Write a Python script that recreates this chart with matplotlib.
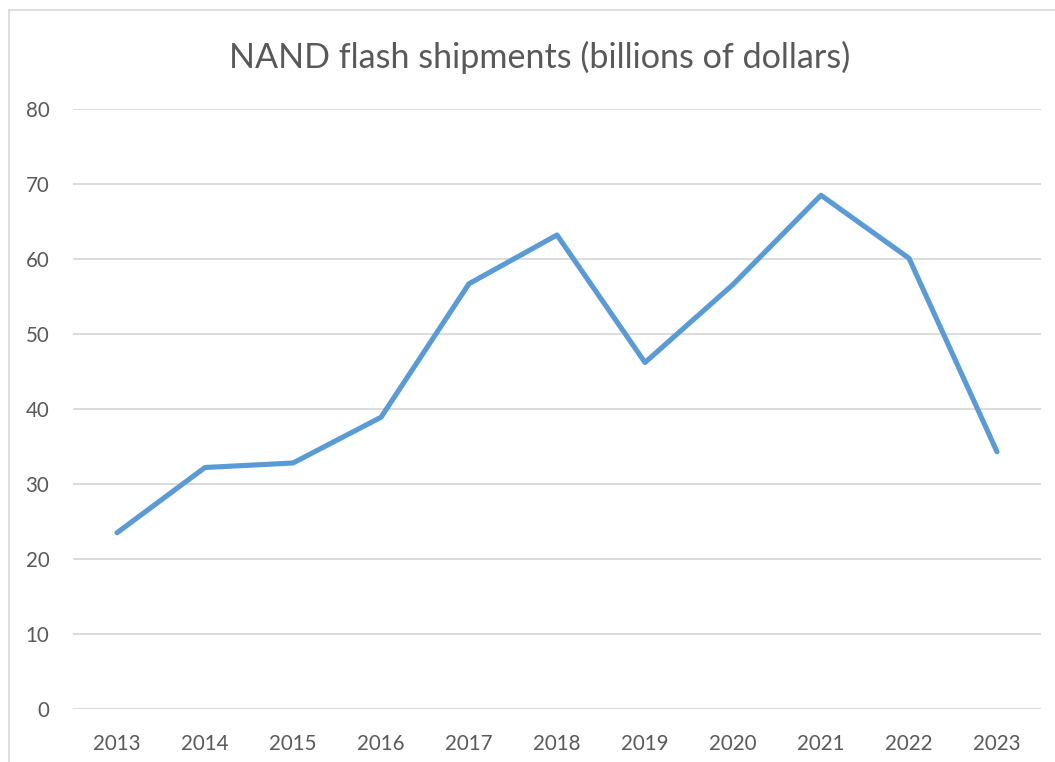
import matplotlib
matplotlib.use("Agg")
import matplotlib.pyplot as plt
from matplotlib.lines import Line2D

years = ["2013", "2014", "2015", "2016", "2017", "2018",
         "2019", "2020", "2021", "2022", "2023"]
shipments = [23.5, 32.2, 32.8, 38.9, 56.7, 63.2, 46.2, 56.6, 68.5, 60.1, 34.3]
y_ticks = [0, 10, 20, 30, 40, 50, 60, 70, 80]

W, H = 1055, 762
fig = plt.figure(figsize=(W / 100, H / 100), dpi=100)
plt.rcParams["font.family"] = ["Lato", "DejaVu Sans"]

text_color = "#595959"
grid_color = "#D9D9D9"

ax = fig.add_axes([73 / W, 1 - 709 / H, (1041 - 73) / W, (709 - 109) / H])
x = list(range(len(years)))
ax.plot(x, shipments, color="#5B9BD5", lw=3.7, solid_capstyle="round",
        solid_joinstyle="round", zorder=3)

ax.set_xlim(-0.5, len(years) - 0.5)
ax.set_ylim(0, 80)
ax.set_yticks(y_ticks)
ax.set_xticks(x)
ax.set_xticklabels(years)
for s in ax.spines.values():
    s.set_visible(False)
ax.grid(axis="y", color=grid_color, lw=1.3, zorder=0)
ax.tick_params(axis="both", length=0, colors=text_color, labelsize=14.8)
ax.tick_params(axis="y", pad=17)
ax.tick_params(axis="x", pad=18)

# chart area border (top and left edges)
fig.add_artist(Line2D([9 / W, 1.0], [1 - 10 / H, 1 - 10 / H],
                      transform=fig.transFigure, color=grid_color, lw=1.2))
fig.add_artist(Line2D([9 / W, 9 / W], [0.0, 1 - 10 / H],
                      transform=fig.transFigure, color=grid_color, lw=1.2))

fig.text(540 / W, 1 - 68 / H, "NAND flash shipments (billions of dollars)",
         ha="center", va="baseline", fontsize=24.6, color=text_color)

fig.savefig("out.png", dpi=100)
